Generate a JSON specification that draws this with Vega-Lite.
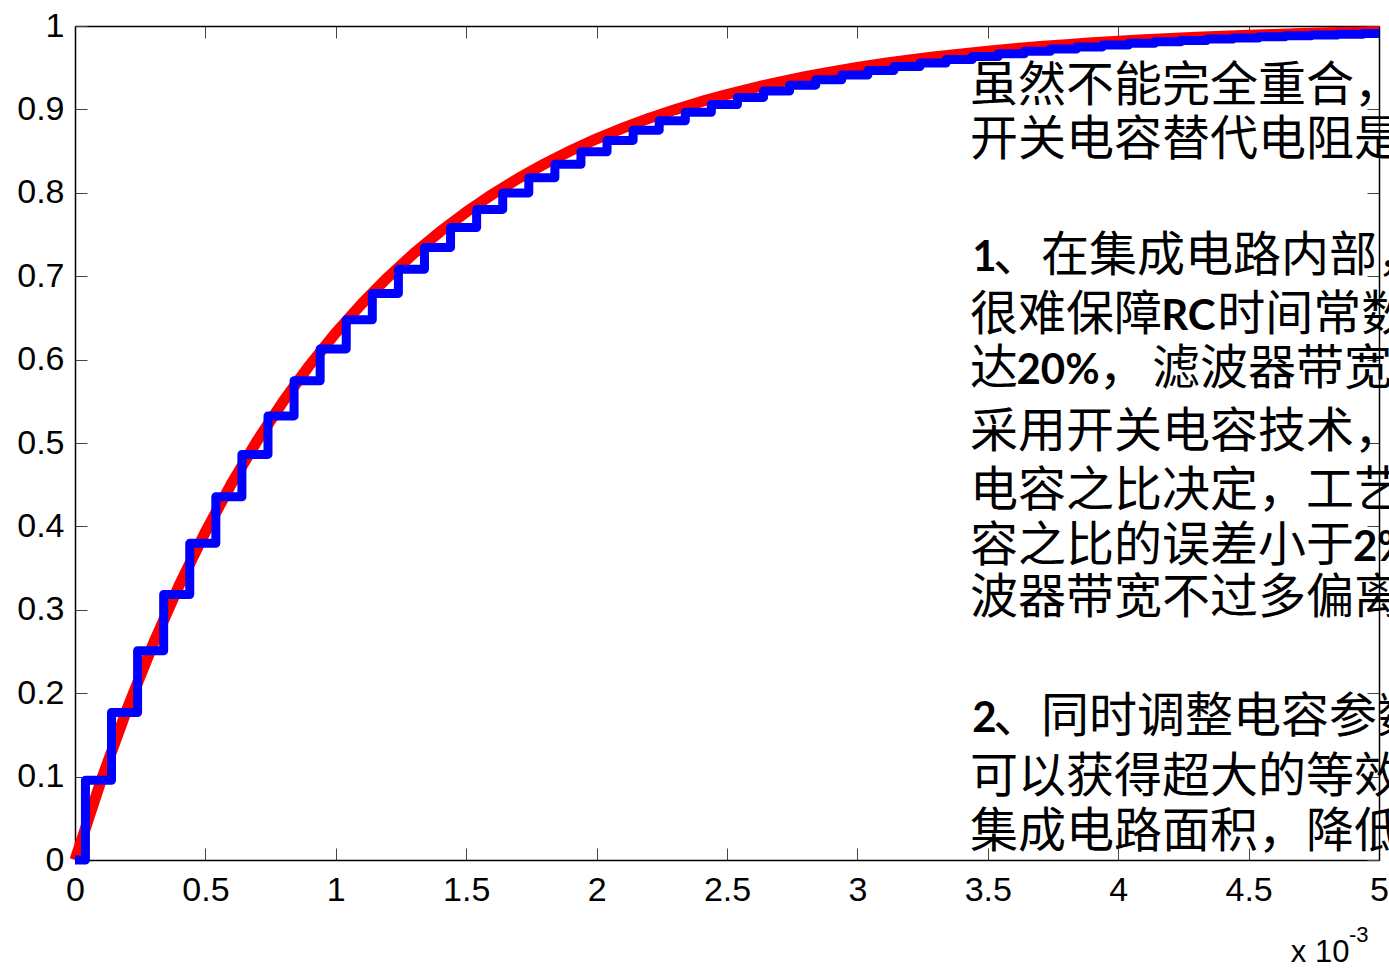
{
  "$schema": "https://vega.github.io/schema/vega-lite/v6.json",
  "width": 1304,
  "height": 834,
  "autosize": {"type": "none"},
  "padding": {"left": 75, "top": 26, "right": 10, "bottom": 108},
  "background": "white",
  "config": {
    "view": {"stroke": null},
    "axis": {
      "grid": false,
      "domainColor": "#000000",
      "domainWidth": 1.5,
      "tickColor": "#444444",
      "tickWidth": 1,
      "tickSize": -12,
      "labelFont": "Liberation Sans",
      "labelFontSize": 34,
      "labelColor": "#000000",
      "labelFlush": false,
      "labelOverlap": false
    }
  },
  "datasets": {
    "red": [
      {"x": 0, "y": 0}, {"x": 0.1, "y": 0.0952}, {"x": 0.2, "y": 0.1813}, {"x": 0.3, "y": 0.2592}, {"x": 0.4, "y": 0.3297},
      {"x": 0.5, "y": 0.3935}, {"x": 0.6, "y": 0.4512}, {"x": 0.7, "y": 0.5034}, {"x": 0.8, "y": 0.5507}, {"x": 0.9, "y": 0.5934},
      {"x": 1.0, "y": 0.6321}, {"x": 1.1, "y": 0.6671}, {"x": 1.2, "y": 0.6988}, {"x": 1.3, "y": 0.7275}, {"x": 1.4, "y": 0.7534},
      {"x": 1.5, "y": 0.7769}, {"x": 1.6, "y": 0.7981}, {"x": 1.7, "y": 0.8173}, {"x": 1.8, "y": 0.8347}, {"x": 1.9, "y": 0.8504},
      {"x": 2.0, "y": 0.8647}, {"x": 2.1, "y": 0.8775}, {"x": 2.2, "y": 0.8892}, {"x": 2.3, "y": 0.8997}, {"x": 2.4, "y": 0.9093},
      {"x": 2.5, "y": 0.9179}, {"x": 2.6, "y": 0.9257}, {"x": 2.7, "y": 0.9328}, {"x": 2.8, "y": 0.9392}, {"x": 2.9, "y": 0.945},
      {"x": 3.0, "y": 0.9502}, {"x": 3.1, "y": 0.955}, {"x": 3.2, "y": 0.9592}, {"x": 3.3, "y": 0.9631}, {"x": 3.4, "y": 0.9666},
      {"x": 3.5, "y": 0.9698}, {"x": 3.6, "y": 0.9727}, {"x": 3.7, "y": 0.9753}, {"x": 3.8, "y": 0.9776}, {"x": 3.9, "y": 0.9798},
      {"x": 4.0, "y": 0.9817}, {"x": 4.1, "y": 0.9834}, {"x": 4.2, "y": 0.985}, {"x": 4.3, "y": 0.9864}, {"x": 4.4, "y": 0.9877},
      {"x": 4.5, "y": 0.9889}, {"x": 4.6, "y": 0.9899}, {"x": 4.7, "y": 0.9909}, {"x": 4.8, "y": 0.9918}, {"x": 4.9, "y": 0.9926},
      {"x": 5.0, "y": 0.9933}
    ],
    "blue": [
      {"x": 0, "y": 0},
      {"x": 0.04, "y": 0.0955}, {"x": 0.14, "y": 0.1769}, {"x": 0.24, "y": 0.2509}, {"x": 0.34, "y": 0.3183}, {"x": 0.44, "y": 0.3797},
      {"x": 0.54, "y": 0.4355}, {"x": 0.64, "y": 0.4863}, {"x": 0.74, "y": 0.5325}, {"x": 0.84, "y": 0.5746}, {"x": 0.94, "y": 0.6128},
      {"x": 1.04, "y": 0.6477}, {"x": 1.14, "y": 0.6794}, {"x": 1.24, "y": 0.7083}, {"x": 1.34, "y": 0.7345}, {"x": 1.44, "y": 0.7584},
      {"x": 1.54, "y": 0.7801}, {"x": 1.64, "y": 0.7999}, {"x": 1.74, "y": 0.8179}, {"x": 1.84, "y": 0.8343}, {"x": 1.94, "y": 0.8492},
      {"x": 2.04, "y": 0.8628}, {"x": 2.14, "y": 0.8751}, {"x": 2.24, "y": 0.8864}, {"x": 2.34, "y": 0.8966}, {"x": 2.44, "y": 0.9059},
      {"x": 2.54, "y": 0.9144}, {"x": 2.64, "y": 0.9221}, {"x": 2.74, "y": 0.9291}, {"x": 2.84, "y": 0.9355}, {"x": 2.94, "y": 0.9413},
      {"x": 3.04, "y": 0.9465}, {"x": 3.14, "y": 0.9514}, {"x": 3.24, "y": 0.9557}, {"x": 3.34, "y": 0.9597}, {"x": 3.44, "y": 0.9633},
      {"x": 3.54, "y": 0.9666}, {"x": 3.64, "y": 0.9696}, {"x": 3.74, "y": 0.9724}, {"x": 3.84, "y": 0.9749}, {"x": 3.94, "y": 0.9771},
      {"x": 4.04, "y": 0.9792}, {"x": 4.14, "y": 0.981}, {"x": 4.24, "y": 0.9827}, {"x": 4.34, "y": 0.9843}, {"x": 4.44, "y": 0.9857},
      {"x": 4.54, "y": 0.987}, {"x": 4.64, "y": 0.9882}, {"x": 4.74, "y": 0.9892}, {"x": 4.84, "y": 0.9902}, {"x": 4.94, "y": 0.9911},
      {"x": 5.0, "y": 0.9911}
    ],
    "textNormal": [
      {"x": 3.432, "y": 0.910, "t": "虽然不能完全重合，"},
      {"x": 3.432, "y": 0.845, "t": "开关电容替代电阻是"},
      {"x": 3.52, "y": 0.706, "t": "、在集成电路内部，"},
      {"x": 3.432, "y": 0.636, "t": "很难保障"},
      {"x": 4.38, "y": 0.636, "t": "时间常数"},
      {"x": 3.432, "y": 0.571, "t": "达"},
      {"x": 3.925, "y": 0.571, "t": "，"},
      {"x": 4.13, "y": 0.571, "t": "滤波器带宽"},
      {"x": 3.432, "y": 0.495, "t": "采用开关电容技术，"},
      {"x": 3.432, "y": 0.425, "t": "电容之比决定，工艺"},
      {"x": 3.432, "y": 0.358, "t": "容之比的误差小于"},
      {"x": 3.432, "y": 0.296, "t": "波器带宽不过多偏离"},
      {"x": 3.52, "y": 0.154, "t": "、同时调整电容参数"},
      {"x": 3.432, "y": 0.082, "t": "可以获得超大的等效"},
      {"x": 3.432, "y": 0.016, "t": "集成电路面积，降低"}
    ],
    "textBold": [
      {"x": 3.44, "y": 0.706, "t": "1"},
      {"x": 4.165, "y": 0.636, "t": "RC"},
      {"x": 3.61, "y": 0.571, "t": "20%"},
      {"x": 4.9, "y": 0.358, "t": "2%"},
      {"x": 3.44, "y": 0.154, "t": "2"}
    ],
    "expBase": [{"x": 4.662, "y": -0.1229, "t": "x 10"}],
    "expSup": [{"x": 4.885, "y": -0.0989, "t": "-3"}]
  },
  "layer": [
    {
      "data": {"name": "red"},
      "mark": {"type": "line", "color": "#ff0000", "strokeWidth": 11, "strokeJoin": "round"},
      "encoding": {
        "x": {"field": "x", "type": "quantitative", "scale": {"domain": [0, 5], "nice": false, "zero": false},
              "axis": {"orient": "bottom", "title": null, "values": [0, 0.5, 1, 1.5, 2, 2.5, 3, 3.5, 4, 4.5, 5], "format": "~g", "labelPadding": 25}},
        "y": {"field": "y", "type": "quantitative", "scale": {"domain": [0, 1], "nice": false, "zero": false},
              "axis": {"orient": "left", "title": null, "values": [0, 0.1, 0.2, 0.3, 0.4, 0.5, 0.6, 0.7, 0.8, 0.9, 1], "format": "~g", "labelPadding": 23}}
      }
    },
    {
      "data": {"name": "blue"},
      "mark": {"type": "line", "color": "#0000ff", "strokeWidth": 9, "strokeJoin": "round", "interpolate": "step-after"},
      "encoding": {
        "x": {"field": "x", "type": "quantitative", "scale": {"domain": [0, 5], "nice": false, "zero": false},
              "axis": {"orient": "top", "title": null, "values": [0, 0.5, 1, 1.5, 2, 2.5, 3, 3.5, 4, 4.5, 5], "labels": false}},
        "y": {"field": "y", "type": "quantitative", "scale": {"domain": [0, 1], "nice": false, "zero": false},
              "axis": {"orient": "right", "title": null, "values": [0, 0.1, 0.2, 0.3, 0.4, 0.5, 0.6, 0.7, 0.8, 0.9, 1], "labels": false}}
      }
    },
    {
      "data": {"name": "textNormal"},
      "mark": {"type": "text", "align": "left", "baseline": "alphabetic", "font": "Noto Sans CJK SC", "fontSize": 48, "color": "#000000"},
      "encoding": {
        "x": {"field": "x", "type": "quantitative", "scale": {"domain": [0, 5], "nice": false, "zero": false}, "axis": null},
        "y": {"field": "y", "type": "quantitative", "scale": {"domain": [0, 1], "nice": false, "zero": false}, "axis": null},
        "text": {"field": "t"}
      }
    },
    {
      "data": {"name": "textBold"},
      "mark": {"type": "text", "align": "left", "baseline": "alphabetic", "font": "Lato", "fontWeight": "bold", "fontSize": 42, "color": "#000000"},
      "encoding": {
        "x": {"field": "x", "type": "quantitative", "scale": {"domain": [0, 5], "nice": false, "zero": false}, "axis": null},
        "y": {"field": "y", "type": "quantitative", "scale": {"domain": [0, 1], "nice": false, "zero": false}, "axis": null},
        "text": {"field": "t"}
      }
    },
    {
      "data": {"name": "expBase"},
      "mark": {"type": "text", "align": "left", "baseline": "alphabetic", "font": "Liberation Sans", "fontSize": 31, "color": "#000000"},
      "encoding": {
        "x": {"field": "x", "type": "quantitative", "scale": {"domain": [0, 5], "nice": false, "zero": false}, "axis": null},
        "y": {"field": "y", "type": "quantitative", "scale": {"domain": [0, 1], "nice": false, "zero": false}, "axis": null},
        "text": {"field": "t"}
      }
    },
    {
      "data": {"name": "expSup"},
      "mark": {"type": "text", "align": "left", "baseline": "alphabetic", "font": "Liberation Sans", "fontSize": 22, "color": "#000000"},
      "encoding": {
        "x": {"field": "x", "type": "quantitative", "scale": {"domain": [0, 5], "nice": false, "zero": false}, "axis": null},
        "y": {"field": "y", "type": "quantitative", "scale": {"domain": [0, 1], "nice": false, "zero": false}, "axis": null},
        "text": {"field": "t"}
      }
    }
  ],
  "resolve": {"axis": {"x": "independent", "y": "independent"}}
}
